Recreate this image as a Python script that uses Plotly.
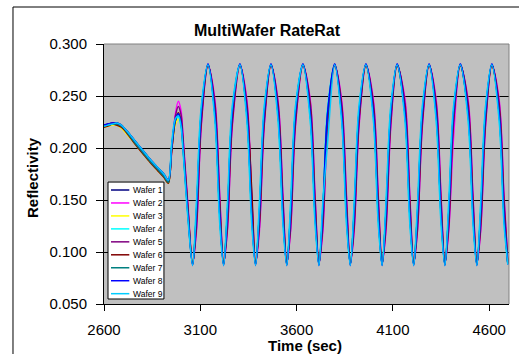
import plotly.graph_objects as go

# ---------------- data ----------------
WAFER_NAMES = ["Wafer 1", "Wafer 2", "Wafer 3", "Wafer 4", "Wafer 5",
               "Wafer 6", "Wafer 7", "Wafer 8", "Wafer 9"]
COLORS = ["#000080", "#FF00FF", "#FFFF00", "#00FFFF", "#800080",
          "#800000", "#008080", "#0000FF", "#00CCFF"]

X_TICKS = [2600, 3100, 3600, 4100, 4600]
X_TICK_TEXT = ["2600", "3100", "3600", "4100", "4600"]
Y_TICKS = [0.05, 0.10, 0.15, 0.20, 0.25, 0.30]
Y_TICK_TEXT = ["0.050", "0.100", "0.150", "0.200", "0.250", "0.300"]

TIME = [2600, 2620, 2645, 2665, 2690, 2720, 2760, 2800, 2840, 2880, 2910, 2934,
        2951, 2970, 2986, 3000, 3011, 3035,
        3060, 3080, 3105, 3140, 3176, 3201,
        3221, 3241, 3266, 3306, 3342, 3367,
        3387, 3407, 3432, 3467, 3504, 3529,
        3549, 3569, 3594, 3633, 3671, 3696,
        3716, 3736, 3761, 3798, 3834, 3859,
        3879, 3899, 3924, 3960, 3999, 4024,
        4044, 4064, 4089, 4122, 4163, 4188,
        4208, 4228, 4253, 4288, 4325, 4350,
        4370, 4390, 4415, 4450, 4491, 4516,
        4536, 4556, 4581, 4614, 4652, 4677,
        4697]

WAFER_1 = [0.222, 0.223, 0.224, 0.224, 0.222, 0.216, 0.207, 0.198, 0.189, 0.181, 0.175, 0.169,
           0.198, 0.225, 0.232, 0.224, 0.201, 0.141,
           0.088, 0.137, 0.233, 0.280, 0.233, 0.137,
           0.088, 0.137, 0.233, 0.280, 0.233, 0.138,
           0.088, 0.136, 0.233, 0.280, 0.233, 0.137,
           0.088, 0.137, 0.234, 0.280, 0.233, 0.137,
           0.088, 0.137, 0.233, 0.280, 0.232, 0.137,
           0.088, 0.138, 0.233, 0.280, 0.233, 0.137,
           0.088, 0.137, 0.233, 0.280, 0.233, 0.137,
           0.088, 0.137, 0.233, 0.280, 0.234, 0.137,
           0.088, 0.137, 0.232, 0.280, 0.233, 0.137,
           0.088, 0.137, 0.233, 0.280, 0.233, 0.137,
           0.089]
WAFER_2 = [0.221, 0.222, 0.223, 0.223, 0.221, 0.215, 0.206, 0.197, 0.188, 0.180, 0.173, 0.167,
           0.195, 0.232, 0.245, 0.236, 0.210, 0.148,
           0.089, 0.120, 0.220, 0.279, 0.246, 0.155,
           0.089, 0.121, 0.220, 0.279, 0.246, 0.154,
           0.089, 0.120, 0.221, 0.279, 0.245, 0.155,
           0.089, 0.120, 0.220, 0.279, 0.246, 0.155,
           0.089, 0.119, 0.220, 0.279, 0.246, 0.156,
           0.089, 0.120, 0.220, 0.279, 0.246, 0.155,
           0.089, 0.120, 0.219, 0.279, 0.247, 0.155,
           0.089, 0.121, 0.220, 0.279, 0.246, 0.155,
           0.089, 0.120, 0.210, 0.279, 0.246, 0.154,
           0.089, 0.120, 0.220, 0.279, 0.246, 0.155,
           0.090]
WAFER_3 = [0.220, 0.221, 0.222, 0.222, 0.219, 0.213, 0.204, 0.195, 0.186, 0.178, 0.172, 0.166,
           0.196, 0.222, 0.228, 0.221, 0.198, 0.140,
           0.089, 0.136, 0.232, 0.279, 0.234, 0.138,
           0.089, 0.136, 0.232, 0.279, 0.234, 0.138,
           0.089, 0.135, 0.232, 0.279, 0.234, 0.138,
           0.089, 0.136, 0.232, 0.279, 0.234, 0.139,
           0.089, 0.136, 0.231, 0.279, 0.234, 0.138,
           0.089, 0.136, 0.232, 0.279, 0.235, 0.138,
           0.089, 0.136, 0.232, 0.279, 0.234, 0.138,
           0.089, 0.137, 0.232, 0.279, 0.234, 0.138,
           0.089, 0.136, 0.232, 0.279, 0.234, 0.138,
           0.089, 0.136, 0.232, 0.279, 0.234, 0.138,
           0.090]
WAFER_4 = [0.221, 0.222, 0.223, 0.223, 0.221, 0.215, 0.206, 0.197, 0.188, 0.180, 0.174, 0.168,
           0.202, 0.226, 0.230, 0.220, 0.196, 0.136,
           0.088, 0.144, 0.238, 0.280, 0.228, 0.130,
           0.088, 0.144, 0.238, 0.280, 0.228, 0.130,
           0.088, 0.145, 0.238, 0.280, 0.228, 0.130,
           0.088, 0.144, 0.238, 0.280, 0.227, 0.130,
           0.088, 0.144, 0.239, 0.280, 0.228, 0.130,
           0.088, 0.144, 0.238, 0.280, 0.228, 0.129,
           0.088, 0.144, 0.238, 0.280, 0.228, 0.130,
           0.088, 0.143, 0.238, 0.280, 0.228, 0.130,
           0.088, 0.144, 0.238, 0.280, 0.228, 0.130,
           0.088, 0.144, 0.238, 0.280, 0.228, 0.130,
           0.089]
WAFER_5 = [0.221, 0.222, 0.224, 0.223, 0.221, 0.215, 0.206, 0.197, 0.188, 0.179, 0.173, 0.167,
           0.196, 0.230, 0.240, 0.232, 0.207, 0.145,
           0.089, 0.123, 0.223, 0.279, 0.243, 0.151,
           0.089, 0.123, 0.223, 0.279, 0.243, 0.151,
           0.089, 0.124, 0.223, 0.279, 0.243, 0.151,
           0.089, 0.123, 0.223, 0.279, 0.244, 0.151,
           0.089, 0.123, 0.222, 0.279, 0.243, 0.151,
           0.089, 0.123, 0.223, 0.279, 0.243, 0.152,
           0.089, 0.123, 0.223, 0.279, 0.243, 0.151,
           0.089, 0.122, 0.223, 0.279, 0.243, 0.151,
           0.089, 0.123, 0.223, 0.279, 0.243, 0.151,
           0.089, 0.123, 0.223, 0.279, 0.243, 0.151,
           0.090]
WAFER_6 = [0.220, 0.221, 0.223, 0.222, 0.220, 0.214, 0.204, 0.195, 0.186, 0.178, 0.172, 0.166,
           0.197, 0.226, 0.234, 0.226, 0.203, 0.143,
           0.088, 0.130, 0.228, 0.280, 0.238, 0.144,
           0.088, 0.130, 0.228, 0.280, 0.238, 0.160,
           0.088, 0.130, 0.228, 0.280, 0.238, 0.144,
           0.088, 0.131, 0.228, 0.280, 0.238, 0.144,
           0.088, 0.130, 0.228, 0.280, 0.238, 0.143,
           0.088, 0.130, 0.228, 0.280, 0.238, 0.144,
           0.088, 0.130, 0.229, 0.280, 0.238, 0.144,
           0.088, 0.130, 0.228, 0.280, 0.238, 0.144,
           0.088, 0.129, 0.228, 0.280, 0.238, 0.144,
           0.088, 0.130, 0.228, 0.280, 0.238, 0.144,
           0.089]
WAFER_7 = [0.221, 0.222, 0.223, 0.223, 0.221, 0.215, 0.205, 0.196, 0.187, 0.179, 0.173, 0.167,
           0.199, 0.226, 0.233, 0.224, 0.200, 0.139,
           0.088, 0.137, 0.233, 0.280, 0.233, 0.137,
           0.088, 0.137, 0.233, 0.280, 0.233, 0.137,
           0.088, 0.137, 0.233, 0.280, 0.233, 0.137,
           0.088, 0.137, 0.233, 0.280, 0.233, 0.137,
           0.088, 0.137, 0.233, 0.280, 0.233, 0.137,
           0.088, 0.137, 0.233, 0.280, 0.233, 0.137,
           0.088, 0.137, 0.233, 0.280, 0.233, 0.137,
           0.088, 0.137, 0.233, 0.280, 0.233, 0.137,
           0.088, 0.137, 0.233, 0.280, 0.233, 0.137,
           0.088, 0.137, 0.233, 0.280, 0.233, 0.137,
           0.089]
WAFER_8 = [0.222, 0.223, 0.224, 0.224, 0.222, 0.216, 0.207, 0.198, 0.189, 0.181, 0.175, 0.169,
           0.200, 0.227, 0.233, 0.224, 0.199, 0.138,
           0.087, 0.138, 0.234, 0.281, 0.233, 0.136,
           0.087, 0.138, 0.234, 0.281, 0.233, 0.136,
           0.087, 0.138, 0.234, 0.281, 0.233, 0.136,
           0.087, 0.138, 0.234, 0.281, 0.233, 0.136,
           0.087, 0.138, 0.234, 0.281, 0.233, 0.136,
           0.087, 0.138, 0.234, 0.281, 0.233, 0.136,
           0.087, 0.138, 0.234, 0.281, 0.233, 0.136,
           0.087, 0.138, 0.234, 0.281, 0.233, 0.136,
           0.087, 0.138, 0.234, 0.281, 0.233, 0.136,
           0.087, 0.138, 0.234, 0.281, 0.233, 0.136,
           0.088]
WAFER_9 = [0.221, 0.222, 0.223, 0.224, 0.222, 0.216, 0.207, 0.198, 0.189, 0.181, 0.175, 0.169,
           0.203, 0.228, 0.231, 0.221, 0.196, 0.134,
           0.087, 0.147, 0.240, 0.280, 0.226, 0.127,
           0.087, 0.147, 0.240, 0.280, 0.226, 0.127,
           0.087, 0.147, 0.240, 0.280, 0.226, 0.127,
           0.087, 0.147, 0.240, 0.280, 0.226, 0.127,
           0.087, 0.147, 0.205, 0.280, 0.226, 0.127,
           0.087, 0.147, 0.240, 0.280, 0.226, 0.127,
           0.087, 0.147, 0.240, 0.280, 0.226, 0.127,
           0.087, 0.147, 0.240, 0.280, 0.226, 0.127,
           0.087, 0.147, 0.240, 0.280, 0.226, 0.127,
           0.087, 0.147, 0.240, 0.280, 0.226, 0.127,
           0.088]

SERIES = [WAFER_1, WAFER_2, WAFER_3, WAFER_4, WAFER_5,
          WAFER_6, WAFER_7, WAFER_8, WAFER_9]

FONT = "Arial, Liberation Sans, sans-serif"

# ---------------- figure ----------------
fig = go.Figure()
for name, color, vals in zip(WAFER_NAMES, COLORS, SERIES):
    fig.add_trace(go.Scatter(
        x=TIME, y=vals, name=name, mode="lines",
        line=dict(color=color, width=1.5, shape="spline", smoothing=0.9),
        showlegend=False, hoverinfo="x+y+name"))

fig.update_layout(
    width=519, height=354,
    margin=dict(l=104, r=10, t=44, b=50, autoexpand=False),
    paper_bgcolor="white", plot_bgcolor="#C0C0C0",
    font=dict(family=FONT, color="black"),
    showlegend=False,
    xaxis=dict(range=[2600, 4703], tickmode="array", tickvals=X_TICKS,
               ticktext=X_TICK_TEXT, showgrid=False, zeroline=False,
               showline=True, linecolor="black", linewidth=1,
               ticks="outside", ticklen=6, tickcolor="black", tickwidth=1,
               tickfont=dict(size=15, family=FONT, color="black"),
               ticklabelstandoff=6),
    yaxis=dict(range=[0.05, 0.30], tickmode="array", tickvals=Y_TICKS,
               ticktext=Y_TICK_TEXT, showgrid=True, gridcolor="black",
               gridwidth=1, zeroline=False, showline=True, linecolor="black",
               linewidth=1, ticks="outside", ticklen=7, tickcolor="black",
               tickwidth=1, tickfont=dict(size=15, family=FONT, color="black"),
               ticklabelstandoff=6),
)

shapes = []
# plot-area border (top and right, gray)
shapes.append(dict(type="line", xref="paper", yref="paper", x0=0, x1=1, y0=1, y1=1,
                   line=dict(color="#808080", width=1)))
shapes.append(dict(type="line", xref="paper", yref="paper", x0=1, x1=1, y0=0, y1=1,
                   line=dict(color="#808080", width=1)))
# chart-area frame (left and top)
shapes.append(dict(type="line", xref="paper", yref="paper", x0=-0.2247, x1=-0.2247,
                   y0=-0.3, y1=1.1423, line=dict(color="black", width=1)))
shapes.append(dict(type="line", xref="paper", yref="paper", x0=-0.2247, x1=1.1,
                   y0=1.1423, y1=1.1423, line=dict(color="black", width=1)))

# legend box
shapes.append(dict(type="rect", xref="paper", yref="paper", x0=0.0099, x1=0.148,
                   y0=0.0192, y1=0.469, fillcolor="white",
                   line=dict(color="black", width=1), layer="above"))
annotations = []
for i, (name, color) in enumerate(zip(WAFER_NAMES, COLORS)):
    yp = (114 - 12.96 * i) / 260
    shapes.append(dict(type="line", xref="paper", yref="paper", x0=0.0173, x1=0.0625,
                       y0=yp, y1=yp, line=dict(color=color, width=1.5), layer="above"))
    annotations.append(dict(text=name, xref="paper", yref="paper", x=0.066, y=yp,
                            xanchor="left", yanchor="middle", showarrow=False,
                            font=dict(size=8.5, family=FONT, color="black")))

annotations.append(dict(text="<b>MultiWafer RateRat</b>", xref="paper", yref="paper",
                        x=0.4025, y=1.05, xanchor="center", yanchor="middle",
                        showarrow=False, font=dict(size=16, family=FONT, color="black")))
annotations.append(dict(text="<b>Time (sec)</b>", xref="paper", yref="paper",
                        x=0.496, y=-0.1615, xanchor="center", yanchor="middle",
                        showarrow=False, font=dict(size=15, family=FONT, color="black")))
annotations.append(dict(text="<b>Reflectivity</b>", xref="paper", yref="paper",
                        x=-0.178, y=0.488, xanchor="center", yanchor="middle",
                        textangle=-90, showarrow=False,
                        font=dict(size=15, family=FONT, color="black")))

fig.update_layout(shapes=shapes, annotations=annotations)

fig.write_html("out.html", config={"displayModeBar": False},
               post_script="document.body.style.margin='0';document.body.style.overflow='hidden';")
